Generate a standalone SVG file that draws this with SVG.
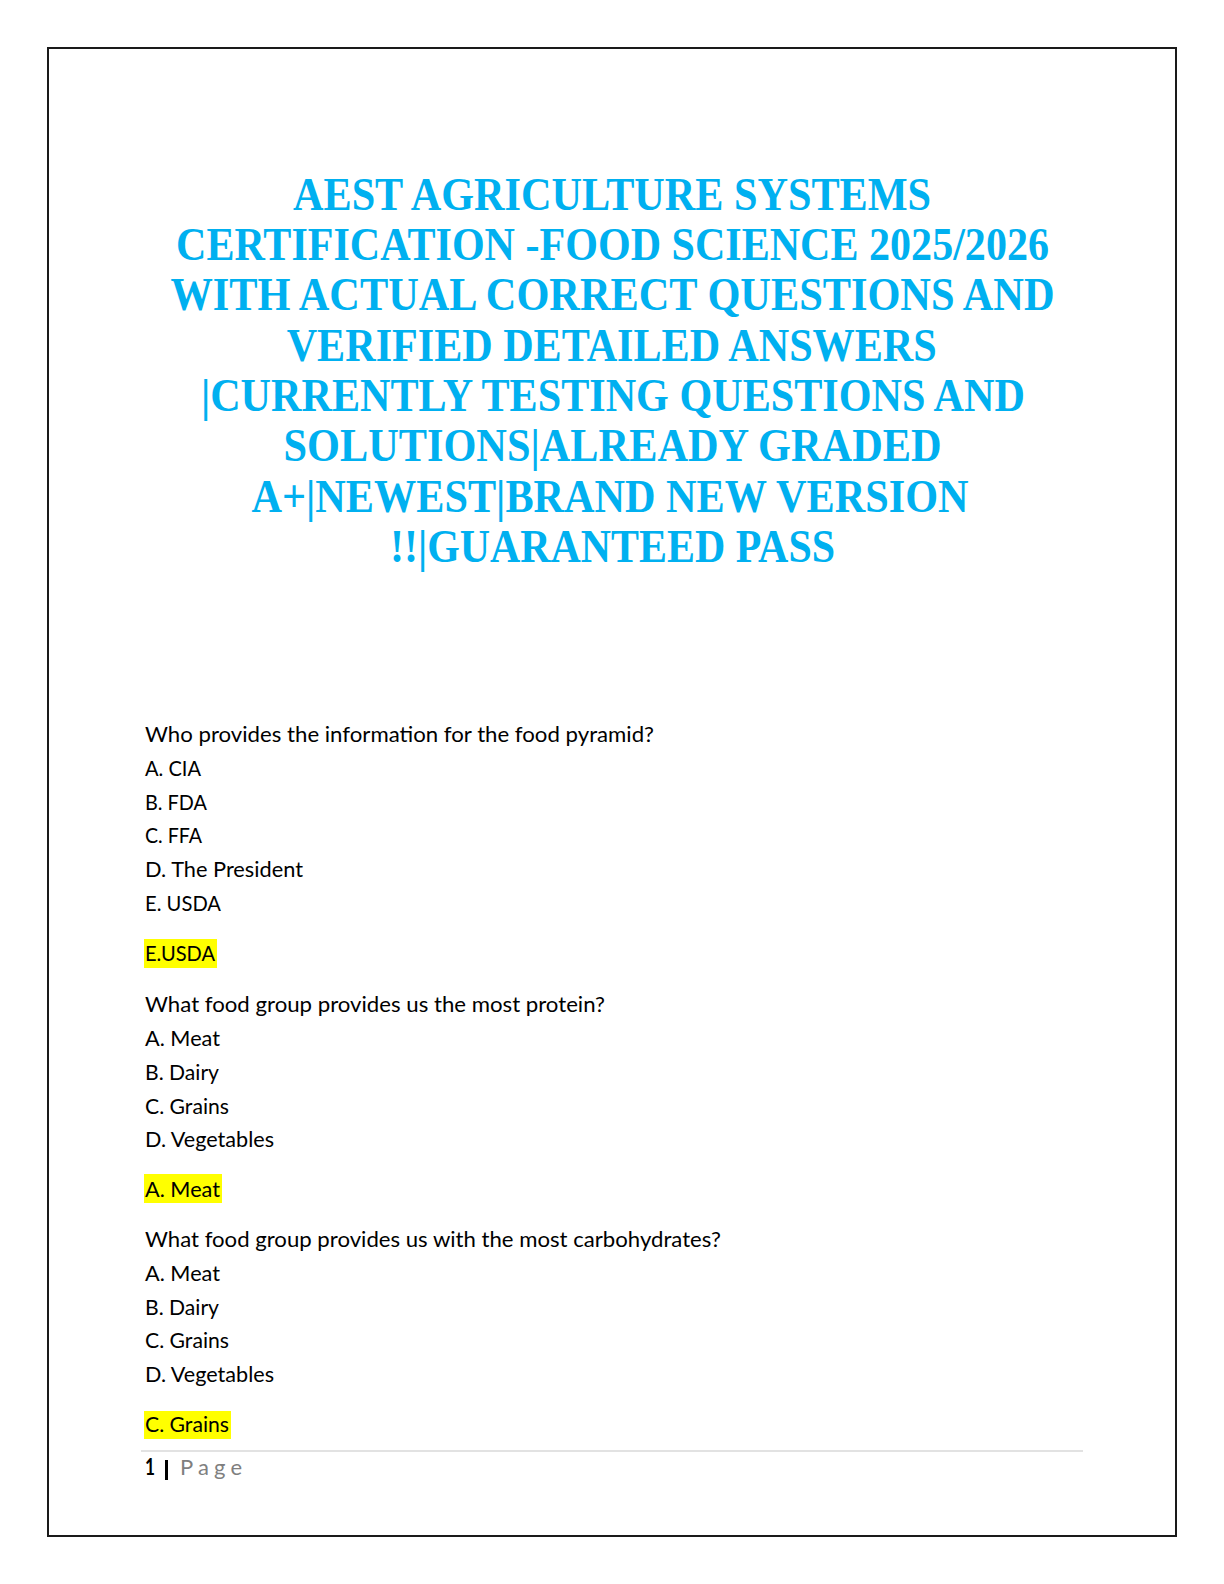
<svg xmlns="http://www.w3.org/2000/svg" width="1224" height="1584" viewBox="0 0 1224 1584">
  <style>
    .title { font-family: "Liberation Serif", "Times New Roman", serif; font-weight: bold; font-size: 47px; fill: #00B0F0; text-anchor: middle; }
    .body { font-family: Lato, "Liberation Sans", sans-serif; font-size: 22px; fill: #000000; }
    .hl { fill: #FFFF00; }
    .foot { font-family: Lato, "Liberation Sans", sans-serif; font-size: 22px; }
  </style>
  <rect x="0" y="0" width="1224" height="1584" fill="#FFFFFF"/>
  <rect id="page-border" x="48" y="48" width="1128" height="1488" fill="none" stroke="#1a1a1a" stroke-width="2"/>

  <g id="title">
    <text class="title" x="612" y="209.5" textLength="638" lengthAdjust="spacingAndGlyphs">AEST AGRICULTURE SYSTEMS</text>
    <text class="title" x="612.5" y="260" textLength="873" lengthAdjust="spacingAndGlyphs">CERTIFICATION -FOOD SCIENCE 2025/2026</text>
    <text class="title" x="612.5" y="310.3" textLength="884" lengthAdjust="spacingAndGlyphs">WITH ACTUAL CORRECT QUESTIONS AND</text>
    <text class="title" x="611.7" y="360.7" textLength="650" lengthAdjust="spacingAndGlyphs">VERIFIED DETAILED ANSWERS</text>
    <text class="title" x="612.9" y="410.8" textLength="824" lengthAdjust="spacingAndGlyphs">|CURRENTLY TESTING QUESTIONS AND</text>
    <text class="title" x="612.5" y="461.2" textLength="658" lengthAdjust="spacingAndGlyphs">SOLUTIONS|ALREADY GRADED</text>
    <text class="title" x="610" y="512" textLength="717" lengthAdjust="spacingAndGlyphs">A+|NEWEST|BRAND NEW VERSION</text>
    <text class="title" x="612.5" y="561.8" textLength="445" lengthAdjust="spacingAndGlyphs">!!|GUARANTEED PASS</text>
  </g>

  <g id="question-1">
    <text class="body" x="145" y="742" textLength="509" lengthAdjust="spacingAndGlyphs">Who provides the information for the food pyramid?</text>
    <text class="body" x="145" y="775.8" textLength="56" lengthAdjust="spacingAndGlyphs">A. CIA</text>
    <text class="body" x="145" y="809.5" textLength="62" lengthAdjust="spacingAndGlyphs">B. FDA</text>
    <text class="body" x="145" y="843.2" textLength="57" lengthAdjust="spacingAndGlyphs">C. FFA</text>
    <text class="body" x="145" y="877" textLength="158" lengthAdjust="spacingAndGlyphs">D. The President</text>
    <text class="body" x="145" y="911" textLength="76" lengthAdjust="spacingAndGlyphs">E. USDA</text>
    <rect class="hl" x="144" y="939" width="73" height="29"/>
    <text class="body" x="145" y="961" textLength="70" lengthAdjust="spacingAndGlyphs">E.USDA</text>
  </g>

  <g id="question-2">
    <text class="body" x="145" y="1012" textLength="460" lengthAdjust="spacingAndGlyphs">What food group provides us the most protein?</text>
    <text class="body" x="145" y="1046" textLength="75" lengthAdjust="spacingAndGlyphs">A. Meat</text>
    <text class="body" x="145" y="1080" textLength="74" lengthAdjust="spacingAndGlyphs">B. Dairy</text>
    <text class="body" x="145" y="1113.5" textLength="84" lengthAdjust="spacingAndGlyphs">C. Grains</text>
    <text class="body" x="145" y="1147" textLength="129" lengthAdjust="spacingAndGlyphs">D. Vegetables</text>
    <rect class="hl" x="144" y="1174" width="78" height="29"/>
    <text class="body" x="145" y="1197" textLength="75" lengthAdjust="spacingAndGlyphs">A. Meat</text>
  </g>

  <g id="question-3">
    <text class="body" x="145" y="1247" textLength="576" lengthAdjust="spacingAndGlyphs">What food group provides us with the most carbohydrates?</text>
    <text class="body" x="145" y="1281" textLength="75" lengthAdjust="spacingAndGlyphs">A. Meat</text>
    <text class="body" x="145" y="1314.5" textLength="74" lengthAdjust="spacingAndGlyphs">B. Dairy</text>
    <text class="body" x="145" y="1348" textLength="84" lengthAdjust="spacingAndGlyphs">C. Grains</text>
    <text class="body" x="145" y="1382" textLength="129" lengthAdjust="spacingAndGlyphs">D. Vegetables</text>
    <rect class="hl" x="144" y="1411" width="87" height="28"/>
    <text class="body" x="145" y="1432" textLength="84" lengthAdjust="spacingAndGlyphs">C. Grains</text>
  </g>

  <g id="footer">
    <line x1="141" y1="1451" x2="1083" y2="1451" stroke="#D9D9D9" stroke-width="1.5"/>
    <text class="foot" x="145" y="1475" font-weight="bold" fill="#000000" textLength="10" lengthAdjust="spacingAndGlyphs">1</text>
    <rect x="165" y="1460" width="3" height="20" fill="#000000"/>
    <text class="foot" x="180" y="1475" fill="#7F7F7F" textLength="62" lengthAdjust="spacing">Page</text>
  </g>
</svg>
